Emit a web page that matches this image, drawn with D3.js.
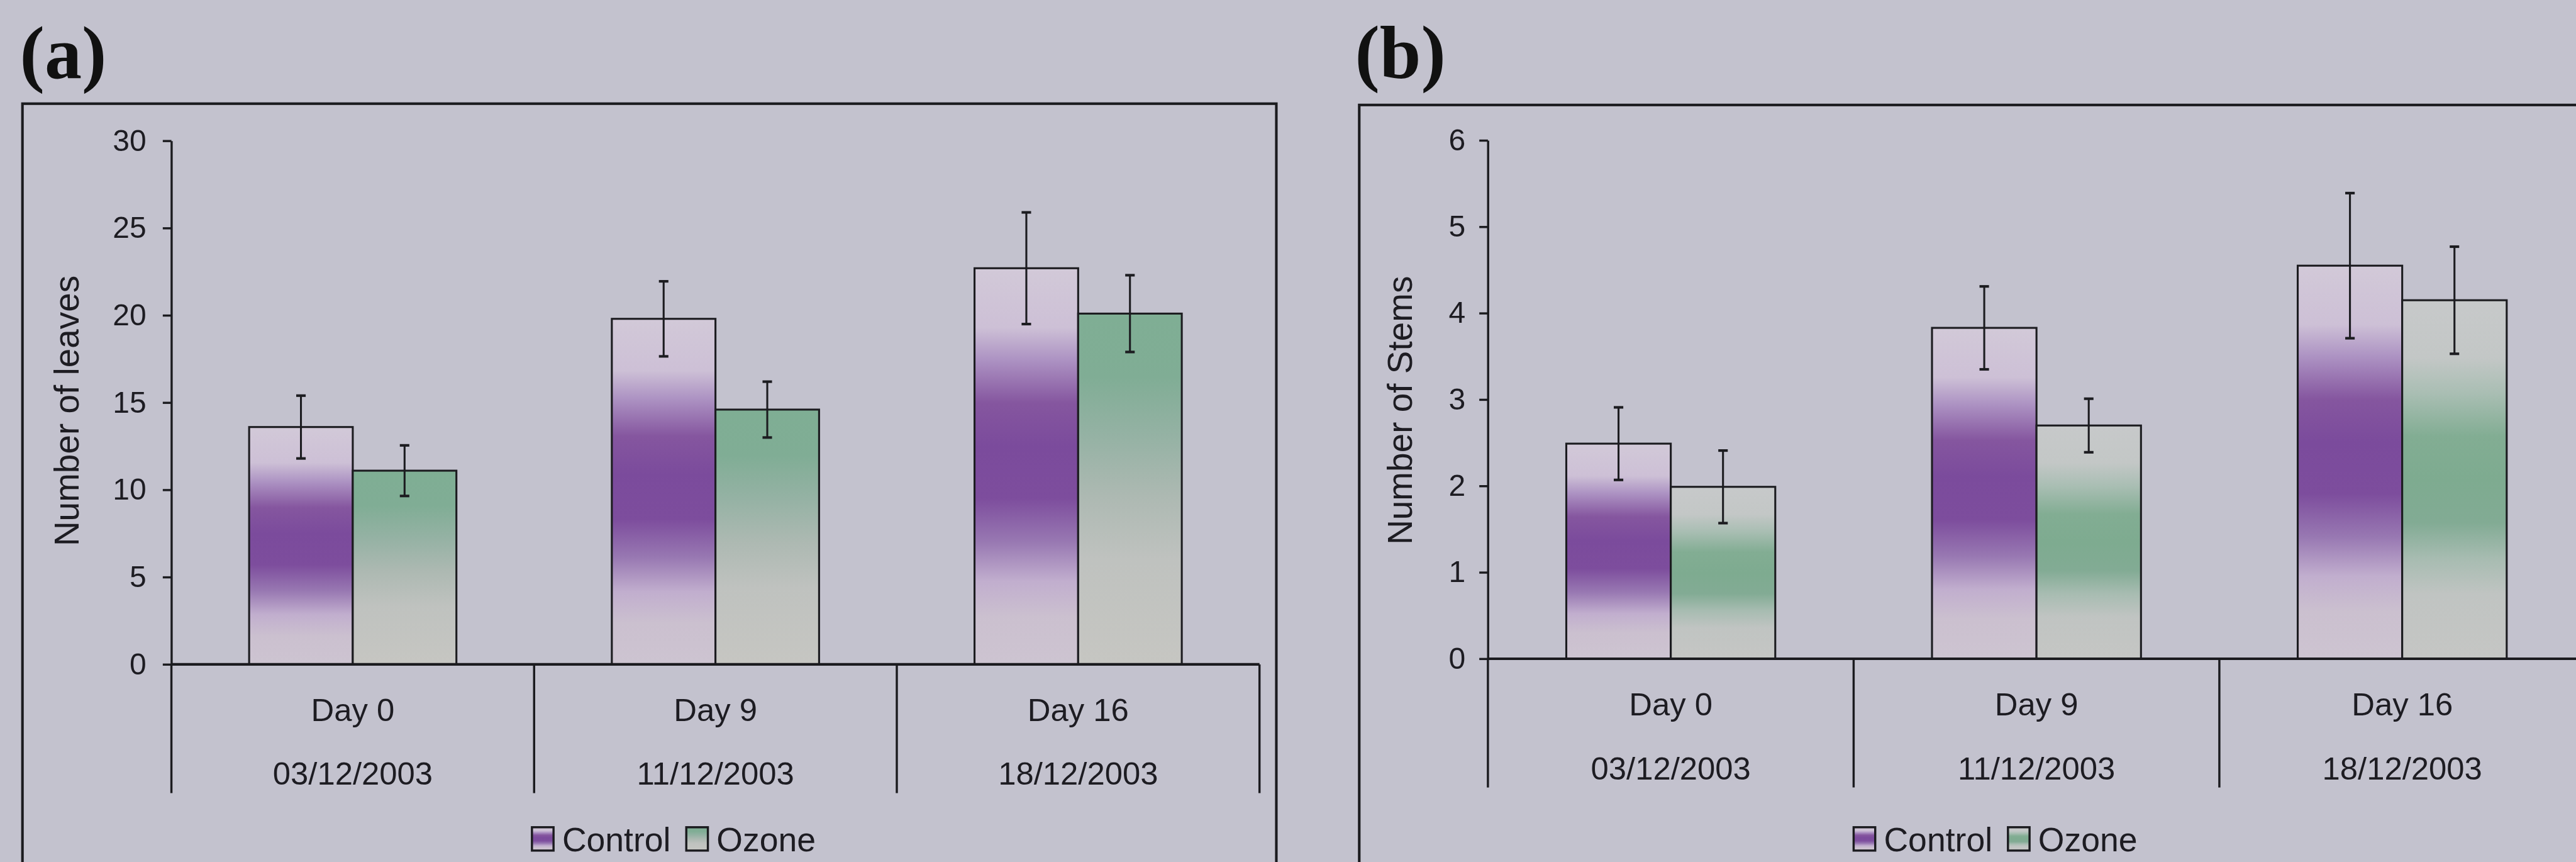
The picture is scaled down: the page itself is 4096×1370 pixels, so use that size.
<!DOCTYPE html>
<html>
<head>
<meta charset="utf-8">
<script src="https://cdn.jsdelivr.net/npm/d3@7"></script>
<style>
  html, body { margin: 0; padding: 0; background: #c3c2ce; overflow: hidden; }
  svg { display: block; }
</style>
</head>
<body>
<svg id="chart"></svg>
<script>
// ---- data -------------------------------------------------------------
const categories = ["Day 0", "Day 9", "Day 16"];
const dates = ["03/12/2003", "11/12/2003", "18/12/2003"];
const seriesNames = ["Control", "Ozone"];

// (a) number of leaves, mean and error
const leavesControl = [13.6, 19.8, 22.7];
const leavesControlErr = [1.8, 2.15, 3.2];
const leavesOzone = [11.1, 14.6, 20.1];
const leavesOzoneErr = [1.45, 1.6, 2.2];
const leavesTicks = [0, 5, 10, 15, 20, 25, 30];

// (b) number of stems, mean and error
const stemsControl = [2.49, 3.83, 4.55];
const stemsControlErr = [0.42, 0.48, 0.84];
const stemsOzone = [1.99, 2.7, 4.15];
const stemsOzoneErr = [0.42, 0.31, 0.62];
const stemsTicks = [0, 1, 2, 3, 4, 5, 6];

// ---- canvas -------------------------------------------------------------
const W = 4096, H = 1370;
const k = W / 5966;               // layout is worked out on a 5966-wide sheet
const BG = "#c3c2ce", INK = "#1d1c22";
const SANS = "'Liberation Sans', Arial, sans-serif";
const SERIF = "'Liberation Serif', 'Times New Roman', serif";

const svg = d3.select("#chart").attr("width", W).attr("height", H);
svg.append("rect").attr("width", W).attr("height", H).attr("fill", BG);
const defs = svg.append("defs");
const root = svg.append("g").attr("transform", `scale(${k})`);

// vertical fill gradients for the bars (light – colour band – light)
function gradient(id, stops) {
  const g = defs.append("linearGradient").attr("id", id)
    .attr("x1", 0).attr("y1", 0).attr("x2", 0).attr("y2", 1);
  stops.forEach(([o, c]) => g.append("stop").attr("offset", o).attr("stop-color", c));
}
gradient("gControl", [
  [0, "#d2c9d8"], [0.15, "#cdc0d6"], [0.23, "#ad93c3"], [0.34, "#85569f"],
  [0.45, "#7b4b9c"], [0.58, "#7d4d9d"], [0.69, "#9878b2"], [0.79, "#c1aece"],
  [0.88, "#cbc0cf"], [1, "#cdc4d1"]
]);
gradient("gOzoneA", [
  [0, "#7fae94"], [0.18, "#80ad95"], [0.35, "#95b2a4"], [0.52, "#adb9b2"],
  [0.7, "#bfc2bf"], [1, "#c6c6c2"]
]);
gradient("gOzoneB", [
  [0, "#c7c9ca"], [0.16, "#c3c7c6"], [0.26, "#a9beb3"], [0.38, "#82ad93"],
  [0.5, "#7eab90"], [0.62, "#82ab94"], [0.72, "#a7bcb1"], [0.82, "#c0c4c2"],
  [1, "#c5c6c4"]
]);

const panels = [
  {
    tag: "(a)", tagX: 46, tagY: 180,
    box: { x0: 52, y0: 240, x1: 2956, y1: 2200 },
    plotL: 397, plotR: 2917, yZero: 1538, yTop: 326, max: 30,
    ticks: leavesTicks, tickGap: 58,
    title: "Number of leaves", titleX: 182, titleY: 951,
    control: leavesControl, controlErr: leavesControlErr,
    ozone: leavesOzone, ozoneErr: leavesOzoneErr,
    ozoneFill: "url(#gOzoneA)",
    legendX: 1232
  },
  {
    tag: "(b)", tagX: 3138, tagY: 179,
    box: { x0: 3148, y0: 243, x1: 6200, y1: 2200 },
    plotL: 3446, plotR: 3446 + 3 * 847, yZero: 1525, yTop: 325, max: 6,
    ticks: stemsTicks, tickGap: 52,
    title: "Number of Stems", titleX: 3270, titleY: 950,
    control: stemsControl, controlErr: stemsControlErr,
    ozone: stemsOzone, ozoneErr: stemsOzoneErr,
    ozoneFill: "url(#gOzoneB)",
    legendX: 4293
  }
];

panels.forEach(p => {
  const g = root.append("g");

  // panel letter
  g.append("text").attr("x", p.tagX).attr("y", p.tagY)
    .attr("font-family", SERIF).attr("font-weight", "bold")
    .attr("font-size", 172).attr("fill", "#111").text(p.tag);

  // chart frame (runs off the lower edge)
  g.append("rect").attr("x", p.box.x0).attr("y", p.box.y0)
    .attr("width", p.box.x1 - p.box.x0).attr("height", p.box.y1 - p.box.y0)
    .attr("fill", "none").attr("stroke", "#1b1b1f").attr("stroke-width", 6);

  const y = d3.scaleLinear().domain([0, p.max]).range([p.yZero, p.yTop]);
  const x0 = d3.scaleBand().domain(categories).range([p.plotL, p.plotR])
    .paddingInner(0).paddingOuter(0);
  const x1 = d3.scaleBand().domain(seriesNames).range([0, x0.bandwidth()])
    .paddingInner(0).paddingOuter(0.75);

  const rows = categories.map((c, i) => ({
    cat: c,
    vals: [
      { s: "Control", v: p.control[i], e: p.controlErr[i], fill: "url(#gControl)" },
      { s: "Ozone", v: p.ozone[i], e: p.ozoneErr[i], fill: p.ozoneFill }
    ]
  }));

  // bars
  const grp = g.selectAll("g.cat").data(rows).join("g")
    .attr("class", "cat")
    .attr("transform", d => `translate(${x0(d.cat)},0)`);
  grp.selectAll("rect").data(d => d.vals).join("rect")
    .attr("x", d => x1(d.s)).attr("width", x1.bandwidth())
    .attr("y", d => y(d.v)).attr("height", d => y(0) - y(d.v))
    .attr("fill", d => d.fill)
    .attr("stroke", "#1c1c20").attr("stroke-width", 4.5);

  // error bars
  const eb = grp.selectAll("g.err").data(d => d.vals).join("g").attr("class", "err")
    .attr("transform", d => `translate(${x1(d.s) + x1.bandwidth() / 2},0)`);
  eb.append("line").attr("y1", d => y(d.v + d.e)).attr("y2", d => y(d.v - d.e))
    .attr("stroke", "#1c1c20").attr("stroke-width", 4.5);
  eb.selectAll("line.cap").data(d => [d.v + d.e, d.v - d.e]).join("line")
    .attr("class", "cap").attr("x1", -11).attr("x2", 11)
    .attr("y1", v => y(v)).attr("y2", v => y(v))
    .attr("stroke", "#1c1c20").attr("stroke-width", 6);

  // value axis
  const ax = g.append("g").attr("transform", `translate(${p.plotL},0)`)
    .call(d3.axisLeft(y).tickValues(p.ticks).tickFormat(d3.format("d"))
      .tickSize(20).tickSizeOuter(0).tickPadding(p.tickGap - 20));
  ax.select(".domain").attr("stroke", "#1b1b1f").attr("stroke-width", 5);
  ax.selectAll(".tick line").attr("stroke", "#1b1b1f").attr("stroke-width", 5);
  ax.selectAll(".tick text").attr("font-family", SANS).attr("font-size", 70)
    .attr("fill", INK);

  // category axis: baseline plus group dividers hanging below it
  g.append("line").attr("x1", p.plotL).attr("x2", p.plotR)
    .attr("y1", y(0)).attr("y2", y(0))
    .attr("stroke", "#1b1b1f").attr("stroke-width", 6);
  const edges = categories.map(c => x0(c)).concat([x0.range()[1]]);
  g.selectAll("line.div").data(edges).join("line").attr("class", "div")
    .attr("x1", d => d).attr("x2", d => d)
    .attr("y1", y(0)).attr("y2", y(0) + 298)
    .attr("stroke", "#1b1b1f").attr("stroke-width", 5);

  const lab = g.selectAll("g.lab").data(categories).join("g").attr("class", "lab")
    .attr("transform", d => `translate(${x0(d) + x0.bandwidth() / 2},${y(0)})`)
    .attr("font-family", SANS).attr("font-size", 74).attr("fill", INK)
    .attr("text-anchor", "middle");
  lab.append("text").attr("y", 131).text(d => d);
  lab.append("text").attr("y", 279).text((d, i) => dates[i]);

  // axis title
  g.append("text").attr("transform", `translate(${p.titleX},${p.titleY}) rotate(-90)`)
    .attr("text-anchor", "middle").attr("font-family", SANS).attr("font-size", 80)
    .attr("fill", INK).text(p.title);

  // legend
  const lg = g.append("g").attr("transform", `translate(${p.legendX},1915)`)
    .attr("font-family", SANS).attr("font-size", 78).attr("fill", INK);
  let cx = 0;
  [["Control", "url(#gControl)"], ["Ozone", p.ozoneFill]].forEach(([name, fill]) => {
    lg.append("rect").attr("x", cx).attr("y", 0).attr("width", 50).attr("height", 54)
      .attr("fill", fill).attr("stroke", "#1b1b1f").attr("stroke-width", 5);
    const t = lg.append("text").attr("x", cx + 70).attr("y", 55).text(name);
    cx += 70 + t.node().getComputedTextLength() + 36;
  });
});
</script>
</body>
</html>
